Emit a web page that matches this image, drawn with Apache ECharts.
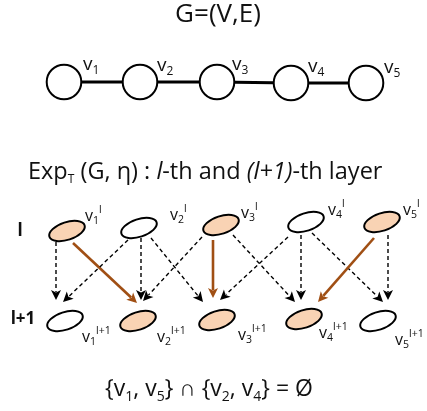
<!DOCTYPE html>
<html><head><meta charset="utf-8">
<script src="https://cdn.jsdelivr.net/npm/echarts@6/dist/echarts.min.js"></script>
<style>html,body{margin:0;padding:0;background:#fff}#c{width:427px;height:411px}</style>
</head><body><div id="c"></div>
<script>
// ---- diagram data ----
const graphNodeX = [64, 140, 217, 291, 366];
const graphNodeY = [82, 82, 82, 83, 83];
const graphIndex = ['1', '2', '3', '4', '5'];
const graphEdges = [[0, 1], [1, 2], [2, 3], [3, 4]];
const graphLabelX = [83, 157, 232, 308, 384];
const graphLabelY = [65, 66, 65, 67, 68];

const layerLX = [67, 139, 221, 306, 382];
const layerLY = [231, 228, 225, 222, 222];
const layerLFilled = [1, 0, 1, 0, 1];
const layerLLabelX = [85, 170, 241, 328, 403];
const layerLLabelY = [216, 215, 213, 210, 210];

const layerL1X = [65, 138, 217, 304, 378];
const layerL1Y = [321, 321, 320, 319, 321];
const layerL1Filled = [0, 1, 1, 1, 0];
const layerL1LabelX = [82, 157, 238, 319, 395];
const layerL1LabelY = [337, 337, 335, 333, 340];

const layerNames = ['l', 'l+1'];
// arrows: x1, y1, x2 (tip), y2 (tip), kind (0 dashed, 1 selected)
const arrowX1 = [56, 73, 128, 141, 151, 213, 202, 233, 288, 301, 312, 374, 388];
const arrowY1 = [242, 243, 240, 238, 238, 240, 237, 235, 237, 235, 233, 238, 235];
const arrowX2 = [56, 137, 63, 141, 203, 213, 143, 295, 220, 301, 383, 318, 388];
const arrowY2 = [300, 303, 302, 300, 302, 298, 301, 302, 300, 300, 302, 302, 300];
const arrowKind = [0, 1, 0, 0, 0, 1, 0, 0, 0, 0, 0, 1, 0];

const titleTop = 'G=(V,E)';
const titleLayer = '{m|Exp}{t|T}{m| (G, η) : }{i|l}{m|-th and }{i|(l+1)}{m|-th layer}';
const footerText = '{v{s|1}, v{s|5}} ∩ {v{s|2}, v{s|4}} = Ø';

// ---- styles ----
const FONT = '"Open Sans", "Noto Sans", sans-serif';
const PEACH = '#F9D3B4';
const BROWN = '#A04F14';
const INK = '#111';

const chart = echarts.init(document.getElementById('c'));

function tok(size, lh, va, extra) {
  return Object.assign({fontSize: size, fontFamily: FONT, lineHeight: lh, verticalAlign: va, color: INK}, extra || {});
}

const textItems = [];
textItems.push({x: 218, y: 14.5, text: titleTop, size: 26, align: 'center'});
textItems.push({x: 28, y: 172, text: titleLayer, size: 23.5, align: 'left',
  rich: {m: tok(23.5, 28, 'middle'), t: tok(12, 21.4, 'bottom'), i: tok(23.5, 28, 'middle', {fontStyle: 'italic'})}});
textItems.push({x: 209, y: 389, text: footerText, size: 23, lineHeight: 30, align: 'center',
  rich: {s: tok(14, 24, 'bottom')}});
textItems.push({x: 20, y: 231, text: layerNames[0], size: 17, align: 'center', bold: true});
textItems.push({x: 23, y: 319, text: layerNames[1], size: 17, align: 'center', bold: true});
graphIndex.forEach((k, i) => textItems.push({x: graphLabelX[i], y: graphLabelY[i],
  text: '{v|v}{s|' + k + '}', size: 19, align: 'left',
  rich: {v: tok(19, 24, 'middle'), s: tok(12, 20, 'bottom')}}));
graphIndex.forEach((k, i) => textItems.push({x: layerLLabelX[i], y: layerLLabelY[i],
  text: '{v|v}{s|' + k + '}{p|' + layerNames[0] + '}', size: 16, align: 'left',
  rich: {v: tok(16, 22, 'middle'), s: tok(10.5, 18.5, 'bottom'), p: tok(10.5, 17, 'top')}}));
graphIndex.forEach((k, i) => textItems.push({x: layerL1LabelX[i], y: layerL1LabelY[i],
  text: '{v|v}{s|' + k + '}{p|' + layerNames[1] + '}', size: 16, align: 'left',
  rich: {v: tok(16, 22, 'middle'), s: tok(10.5, 18.5, 'bottom'), p: tok(10.5, 16, 'top')}}));

function pt(api, x, y) { return api.coord([x, y]); }

const option = {
  animation: false,
  backgroundColor: '#fff',
  grid: {left: 0, right: 0, top: 0, bottom: 0},
  xAxis: {type: 'value', min: 0, max: 427, show: false},
  yAxis: {type: 'value', min: 0, max: 411, inverse: true, show: false},
  series: [
    { // graph edges
      type: 'custom', clip: false, silent: true,
      data: graphEdges.map(([a, b]) => [graphNodeX[a], graphNodeY[a], graphNodeX[b], graphNodeY[b]]),
      encode: {x: [0, 2], y: [1, 3]},
      renderItem(params, api) {
        const p1 = pt(api, api.value(0), api.value(1));
        const p2 = pt(api, api.value(2), api.value(3));
        return {type: 'line', shape: {x1: p1[0], y1: p1[1], x2: p2[0], y2: p2[1]},
          style: {stroke: '#000', lineWidth: 3.2}};
      }
    },
    { // graph nodes
      type: 'custom', clip: false, silent: true,
      data: graphNodeX.map((x, i) => [x, graphNodeY[i]]),
      renderItem(params, api) {
        const p = pt(api, api.value(0), api.value(1));
        return {type: 'circle', shape: {cx: p[0], cy: p[1], r: 17.3},
          style: {fill: '#fff', stroke: '#000', lineWidth: 2}};
      }
    },
    { // arrows
      type: 'custom', clip: false, silent: true,
      data: arrowX1.map((x, i) => [x, arrowY1[i], arrowX2[i], arrowY2[i], arrowKind[i]]),
      encode: {x: [0, 2], y: [1, 3]},
      renderItem(params, api) {
        const p1 = pt(api, api.value(0), api.value(1));
        const p2 = pt(api, api.value(2), api.value(3));
        const sel = api.value(4) === 1;
        const dx = p2[0] - p1[0], dy = p2[1] - p1[1];
        const L = Math.sqrt(dx * dx + dy * dy);
        const ux = dx / L, uy = dy / L;
        const hl = 10, hw = 5;
        const bx = p2[0] - ux * hl, by = p2[1] - uy * hl;
        const color = sel ? BROWN : '#000';
        return {type: 'group', children: [
          {type: 'line', shape: {x1: p1[0], y1: p1[1], x2: bx + ux * 2, y2: by + uy * 2},
            style: {stroke: color, lineWidth: sel ? 2.6 : 1.4, lineDash: sel ? null : [4, 3]}},
          {type: 'polygon', shape: {points: [[p2[0], p2[1]], [bx - uy * hw, by + ux * hw], [bx + ux * 2.5, by + uy * 2.5], [bx + uy * hw, by - ux * hw]]},
            style: {fill: color}}
        ]};
      }
    },
    { // layer ellipses
      type: 'custom', clip: false, silent: true,
      data: layerLX.map((x, i) => [x, layerLY[i], layerLFilled[i]])
        .concat(layerL1X.map((x, i) => [x, layerL1Y[i], layerL1Filled[i]])),
      renderItem(params, api) {
        const p = pt(api, api.value(0), api.value(1));
        return {type: 'ellipse', x: p[0], y: p[1], rotation: 18 * Math.PI / 180,
          shape: {cx: 0, cy: 0, rx: 18.5, ry: 8.8},
          style: {fill: api.value(2) === 1 ? PEACH : '#fff', stroke: '#000', lineWidth: 2}};
      }
    },
    { // texts
      type: 'custom', clip: false, silent: true,
      data: textItems.map((t, i) => [t.x, t.y, i]),
      renderItem(params, api) {
        const t = textItems[api.value(2)];
        const p = pt(api, api.value(0), api.value(1));
        const style = {text: t.text, fontSize: t.size, fontFamily: FONT, fontWeight: t.bold ? 'bold' : 'normal',
          fill: INK, align: t.align, verticalAlign: 'middle', rich: t.rich || {}};
        if (t.lineHeight) style.lineHeight = t.lineHeight;
        return {type: 'text', x: p[0], y: p[1], style};
      }
    }
  ]
};
chart.setOption(option);
</script>
</body></html>
